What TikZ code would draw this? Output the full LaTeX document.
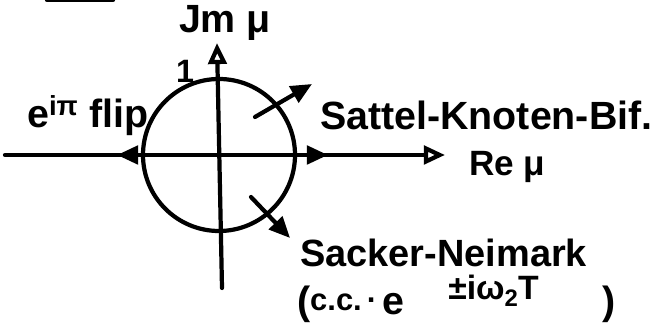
\documentclass[tikz,border=0pt]{standalone}
\usepackage{fontspec}
\setmainfont{Liberation Sans}
\usetikzlibrary{arrows.meta,positioning}

\begin{document}
\begin{tikzpicture}[
    line width=3pt,
    line cap=round,
    every node/.style={font=\bfseries\fontsize{28}{32}\selectfont, inner sep=0pt},
    axis/.style={-{Triangle[open,length=15pt,width=13pt]}},
    move/.style={-{Triangle[length=15pt,width=13pt]}},
    lab/.style={anchor=base west}
]
\useasboundingbox (0,0) rectangle (16.525,8.125);

%------------------------------------------------
% Axes and unit circle
%------------------------------------------------
\coordinate (o)  at (5.475,4.25);
\coordinate (xl) at (0.125,4.25);
\coordinate (xr) at (11.125,4.25);
\coordinate (yb) at (5.55,0.925);
\coordinate (yt) at (5.425,7.05);

\draw[axis] (xl) -- (xr);
\draw[axis] (yb) -- (yt);
\draw (o) circle (1.9);

% stroke cut at the top edge
\coordinate (ul0) at (1.175,8.125);
\coordinate (ul1) at (2.825,8.125);
\draw (ul0) -- (ul1);

%------------------------------------------------
% Multipliers leaving the circle
%------------------------------------------------
\coordinate (flip0) at (4.175,4.25);
\coordinate (flip1) at (2.925,4.25);
\coordinate (fold0) at (6.95,4.25);
\coordinate (fold1) at (8.2,4.25);
\coordinate (cup0)  at (6.375,5.2);
\coordinate (cup1)  at (7.8,6.025);
\coordinate (cdn0)  at (6.275,3.2);
\coordinate (cdn1)  at (7.25,2.175);

\draw[move] (flip0) -- (flip1);
\draw[move] (fold0) -- (fold1);
\draw[move] (cup0) -- (cup1);
\draw[move] (cdn0) -- (cdn1);

%------------------------------------------------
% Labels
%------------------------------------------------
\node[lab] (jm) at (4.425,7.3) {Jm μ};
\node[font=\bfseries\fontsize{23}{26}\selectfont] (one) at (4.625,6.35) {1};
\node[lab] (flip) at (0.625,4.925) {e\textsuperscript{iπ} flip};
\node[lab] (sattel) at (7.95,4.875) {Sattel-Knoten-Bif.};
\node[lab, font=\bfseries\fontsize{25}{28}\selectfont] (re) at (11.675,3.725) {Re μ};
\node[lab, font=\bfseries\fontsize{27}{30}\selectfont] (sacker) at (7.45,1.45) {Sacker-Neimark};
\node[lab] (cc) at (7.375,0.25)
    {(\raisebox{3pt}{\fontsize{22}{26}\selectfont c.c.\,·\,}e%
     \raisebox{11pt}{\fontsize{24}{28}\selectfont\hspace{1.1cm}±iω\raisebox{-5pt}{\fontsize{17}{20}\selectfont 2}T}%
     \hspace{1.6cm})};

\end{tikzpicture}
\end{document}
